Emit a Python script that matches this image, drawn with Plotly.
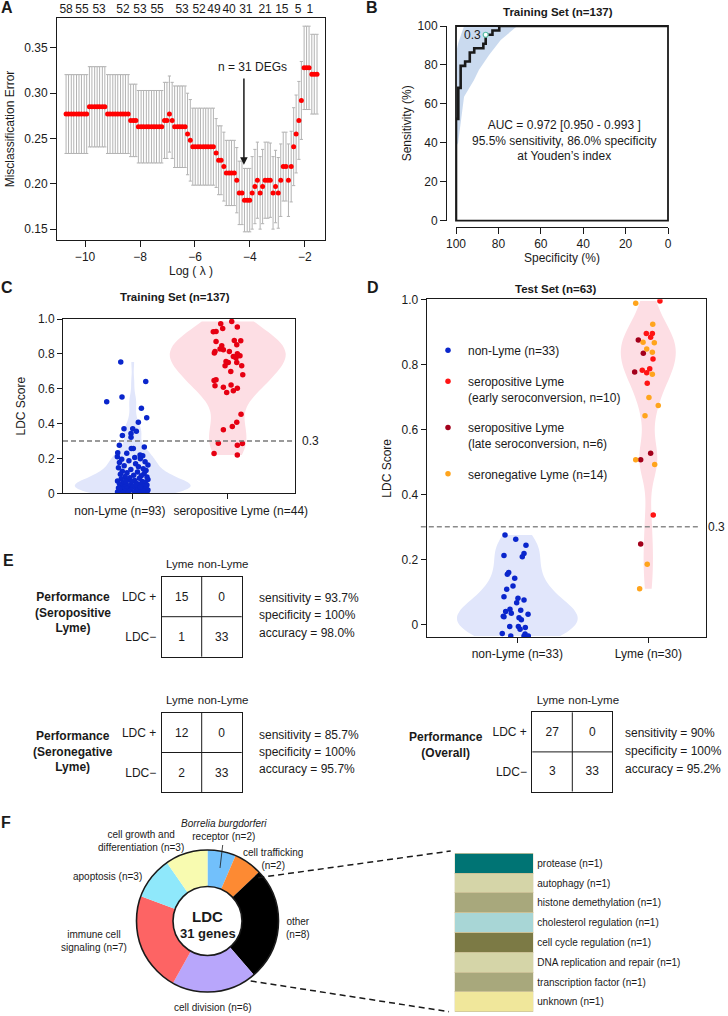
import plotly.graph_objects as go

W, H = 728, 1016
FONT = "Liberation Sans, Arial, Helvetica, sans-serif"
INK = "#1a1a1a"


def PX(x):
    return x / W


def PY(y):
    return 1 - y / H


# ---------------- Panel A : cross-validated misclassification error ----------------
log_lambda = [
    -10.69, -10.60, -10.50, -10.41, -10.31, -10.22, -10.13, -10.03, -9.94, -9.84,
    -9.75, -9.65, -9.56, -9.47, -9.37, -9.28, -9.18, -9.09, -8.99, -8.90,
    -8.81, -8.71, -8.62, -8.53, -8.43, -8.34, -8.24, -8.15, -8.06, -7.96,
    -7.87, -7.77, -7.68, -7.58, -7.49, -7.40, -7.30, -7.21, -7.11, -7.02,
    -6.93, -6.83, -6.74, -6.64, -6.55, -6.46, -6.36, -6.27, -6.17, -6.08,
    -5.99, -5.89, -5.80, -5.70, -5.61, -5.52, -5.42, -5.33, -5.23, -5.14,
    -5.05, -4.95, -4.86, -4.76, -4.67, -4.57, -4.48, -4.39, -4.29, -4.20,
    -4.10, -4.01, -3.92, -3.82, -3.73, -3.63, -3.54, -3.45, -3.35, -3.26,
    -3.16, -3.07, -2.97, -2.88, -2.79, -2.69, -2.60, -2.50, -2.41, -2.32,
    -2.22, -2.13, -2.03, -1.94, -1.85, -1.75, -1.66, -1.56,
]
cv_error = [
    0.277, 0.277, 0.277, 0.277, 0.277, 0.277, 0.277, 0.277, 0.277, 0.285,
    0.285, 0.285, 0.285, 0.285, 0.285, 0.285, 0.277, 0.277, 0.277, 0.277,
    0.277, 0.277, 0.277, 0.277, 0.277, 0.270, 0.270, 0.270, 0.263, 0.263,
    0.263, 0.263, 0.263, 0.263, 0.263, 0.263, 0.263, 0.263, 0.270, 0.270,
    0.277, 0.270, 0.263, 0.263, 0.263, 0.263, 0.263, 0.255, 0.248, 0.241,
    0.241, 0.241, 0.241, 0.241, 0.241, 0.241, 0.241, 0.241, 0.234, 0.226,
    0.226, 0.219, 0.212, 0.212, 0.212, 0.212, 0.204, 0.190, 0.190, 0.182,
    0.182, 0.182, 0.190, 0.197, 0.204, 0.190, 0.197, 0.204, 0.204, 0.204,
    0.190, 0.197, 0.190, 0.204, 0.219, 0.219, 0.204, 0.219, 0.241, 0.255,
    0.270, 0.292, 0.328, 0.328, 0.328, 0.321, 0.321, 0.321,
]
cv_se = [
    0.0435, 0.0435, 0.0435, 0.0435, 0.0435, 0.0435, 0.0435, 0.0435, 0.0435, 0.0443,
    0.0443, 0.0443, 0.0443, 0.0443, 0.0443, 0.0443, 0.0435, 0.0435, 0.0435, 0.0435,
    0.0435, 0.0435, 0.0435, 0.0435, 0.0435, 0.040, 0.040, 0.040, 0.040, 0.040,
    0.040, 0.040, 0.040, 0.040, 0.040, 0.040, 0.040, 0.040, 0.042, 0.042,
    0.042, 0.042, 0.045, 0.045, 0.045, 0.045, 0.045, 0.045, 0.045, 0.0425,
    0.0425, 0.0425, 0.0425, 0.0425, 0.0425, 0.0425, 0.0425, 0.0425, 0.038, 0.038,
    0.038, 0.038, 0.036, 0.036, 0.036, 0.036, 0.036, 0.035, 0.035, 0.035,
    0.035, 0.035, 0.040, 0.041, 0.042, 0.040, 0.041, 0.042, 0.042, 0.041,
    0.040, 0.040, 0.039, 0.040, 0.038, 0.038, 0.040, 0.039, 0.043, 0.043,
    0.043, 0.043, 0.046, 0.046, 0.046, 0.044, 0.044, 0.044,
]
nzero_pos = [-10.69, -10.11, -9.49, -8.62, -8.00, -7.38, -6.47, -5.85, -5.31,
             -4.76, -4.15, -3.45, -2.84, -2.25, -1.82]
nzero_lab = [58, 55, 53, 52, 53, 55, 53, 52, 49, 40, 31, 21, 15, 5, 1]
a_xticks = [-10, -8, -6, -4, -2]
a_yticks = [0.15, 0.20, 0.25, 0.30, 0.35]
chosen_log_lambda = -4.22
chosen_err_tip = 0.221
chosen_label = "n = 31 DEGs"

# ---------------- Panel B : ROC curve ----------------
roc_spec = [100, 100, 98.9, 97.8, 95.7, 93.5, 91.4, 87.1, 86.0, 82.8, 79.6, 0]
roc_sens = [0, 52.3, 68.2, 79.5, 81.8, 86.4, 88.6, 90.9, 95.5, 97.7, 100, 100]
ci_spec = [100, 99.0, 96.2, 91.5, 89.2, 84.4, 78.9, 74.2, 71.1]
ci_sens_lo = [38, 40, 63.7, 72.3, 77.4, 85.1, 92.8, 97.1, 100]
ci_sens_hi = [86, 91, 100, 100, 100, 100, 100, 100, 100]
youden_spec, youden_sens, youden_thr = 86.0, 95.5, "0.3"
b_ticks = [0, 20, 40, 60, 80, 100]
auc_lines = ["AUC = 0.972 [0.950 - 0.993 ]",
             "95.5% sensitivity, 86.0% specificity",
             "at Youden\u2019s index"]

# ---------------- Panel C : training set LDC scores ----------------
train_groups = ["non-Lyme (n=93)", "seropositive Lyme (n=44)"]
train_nonlyme = [
    0.753, 0.641, 0.553, 0.525, 0.488, 0.433, 0.408, 0.371, 0.370, 0.356,
    0.343, 0.331, 0.322, 0.276, 0.266, 0.257, 0.257, 0.232, 0.230, 0.220,
    0.215, 0.210, 0.205, 0.195,
    0.198, 0.187, 0.181, 0.176, 0.169, 0.163, 0.158, 0.152,
    0.147, 0.141, 0.137, 0.131, 0.127, 0.122, 0.118, 0.114, 0.109, 0.104,
    0.101, 0.097, 0.093, 0.089,
    0.086, 0.083, 0.079, 0.077, 0.074, 0.071, 0.068, 0.066, 0.063, 0.060,
    0.058, 0.055, 0.052, 0.050, 0.047, 0.045, 0.043, 0.041, 0.039, 0.037, 0.035,
    0.033, 0.031, 0.029, 0.028, 0.026, 0.024, 0.022, 0.021, 0.019, 0.017,
    0.016, 0.014, 0.012, 0.011, 0.009, 0.008, 0.006, 0.005, 0.004, 0.003,
    0.002, 0.015, 0.027, 0.048, 0.070, 0.036,
]
train_nonlyme_jit = [
    -0.126, 0.137, -0.113, -0.274, 0.091, 0.147, 0.059, -0.092, 0.0, 0.038,
    -0.018, -0.109, -0.018, -0.141, 0.122, -0.015, 0.006, -0.158, -0.063, 0.077,
    0.105, -0.162, 0.021, -0.116,
    0.08, -0.04, 0.13, -0.14, 0.03, 0.16, -0.09, 0.06,
    -0.15, 0.11, -0.02, 0.14, -0.11, 0.05, -0.06, 0.12, -0.13, 0.01,
    0.09, -0.08, 0.15, -0.03,
    0.07, -0.12, 0.16, -0.05, 0.02, -0.16, 0.10, -0.01, 0.13, -0.10,
    0.04, -0.14, 0.08, -0.07, 0.15, -0.03, 0.11, -0.12, 0.0, 0.06, -0.09,
    0.14, -0.15, 0.03, -0.06, 0.12, -0.11, 0.09, -0.02, 0.16, -0.13,
    0.05, -0.08, 0.10, -0.04, 0.13, -0.16, 0.07, -0.10, 0.02, 0.15,
    -0.05, 0.11, -0.14, 0.04, -0.07, 0.08,
]
train_seropos = [
    0.986, 0.973, 0.946, 0.954, 0.927, 0.929, 0.871, 0.877, 0.875, 0.852,
    0.846, 0.814, 0.828, 0.814, 0.824, 0.805, 0.785, 0.800, 0.789, 0.776,
    0.756, 0.751, 0.751, 0.732, 0.732, 0.699, 0.680, 0.647, 0.651, 0.617,
    0.609, 0.622, 0.603, 0.588, 0.578, 0.454, 0.408, 0.383, 0.364, 0.287,
    0.285, 0.276, 0.228, 0.220,
]
train_seropos_jit = [
    0.042, -0.074, -0.053, 0.101, -0.152, -0.123, -0.123, 0.069, 0.137, 0.095,
    -0.063, -0.134, -0.081, 0.017, -0.046, -0.141, 0.059, 0.101, 0.129, 0.087,
    -0.018, 0.006, 0.095, 0.147, -0.028, 0.032, 0.158, -0.144, -0.123, -0.134,
    -0.046, 0.035, 0.101, 0.059, -0.011, 0.140, 0.095, 0.048, -0.046, -0.099,
    0.154, 0.101, -0.144, 0.101,
]
threshold = 0.3
score_ticks = [0, 0.2, 0.4, 0.6, 0.8, 1.0]
score_ticktext = ["0", "0.2", "0.4", "0.6", "0.8", "1.0"]

# ---------------- Panel D : test set LDC scores ----------------
test_groups = ["non-Lyme (n=33)", "Lyme (n=30)"]
test_nonlyme = [0.275, 0.262, 0.243, 0.212, 0.218, 0.208, 0.154, 0.159, 0.142, 0.108,
                0.118, 0.085, 0.080, 0.066, 0.075, 0.046, 0.039, 0.023, 0.025, 0.034,
                0.043, 0.031, 0.014, -0.007, -0.007, -0.015, -0.010, -0.030, -0.028,
                -0.036, -0.036, -0.036, 0.020]
test_nonlyme_jit = [-0.094, -0.012, 0.066, -0.102, 0.051, 0.038, -0.076, -0.066, -0.020,
                    -0.081, -0.033, -0.102, 0.005, -0.005, 0.051, -0.056, -0.089, -0.102,
                    -0.107, -0.046, 0.026, 0.082, 0.031, -0.058, 0.008, 0.021, 0.061,
                    0.059, -0.115, -0.050, 0.051, 0.084, 0.013]
test_sero_early = [0.995, 0.895, 0.895, 0.883, 0.816, 0.782, 0.774, 0.786, 0.742, 0.336]
test_sero_early_jit = [0.089, -0.015, 0.031, 0.018, 0.036, -0.046, -0.012, 0.011, -0.008, 0.038]
test_sero_late = [0.875, 0.834, 0.776, 0.526, 0.506, 0.247]
test_sero_late_jit = [-0.076, -0.038, -0.104, 0.018, -0.058, -0.058]
test_seroneg = [0.988, 0.923, 0.868, 0.866, 0.847, 0.837, 0.769, 0.698, 0.673, 0.642,
                0.506, 0.492, 0.185, 0.109]
test_seroneg_jit = [-0.096, 0.034, -0.040, 0.046, -0.012, 0.031, 0.031, 0.005, 0.076,
                    -0.025, -0.096, 0.049, -0.008, -0.066]
test_legend = ["non-Lyme (n=33)",
               "seropositive Lyme<br>(early seroconversion, n=10)",
               "seropositive Lyme<br>(late seroconversion, n=6)",
               "seronegative Lyme (n=14)"]

# ---------------- Panel E : confusion matrices ----------------
cm_cols = ["Lyme", "non-Lyme"]
cm_rows = ["LDC\u2212", "LDC +"]          # bottom to top
cm_seropos = [[1, 33], [15, 0]]
cm_seroneg = [[2, 33], [12, 0]]
cm_overall = [[3, 33], [27, 0]]
perf_seropos = ["sensitivity = 93.7%", "specificity = 100%", "accuracy = 98.0%"]
perf_seroneg = ["sensitivity = 85.7%", "specificity = 100%", "accuracy = 95.7%"]
perf_overall = ["sensitivity = 90%", "specificity = 100%", "accuracy = 95.2%"]

# ---------------- Panel F : gene categories ----------------
pie_cats = ["Borrelia burgdorferi receptor", "cell trafficking", "other", "cell division",
            "immune cell signaling", "apoptosis", "cell growth and differentiation"]
pie_counts = [2, 2, 8, 6, 7, 3, 3]
pie_colors = ["#72c0fb", "#fd8a33", "#000000", "#b8a6fb", "#fd6464", "#8fe8fb", "#f8fbb0"]
pie_label_text = ["<i>Borrelia burgdorferi</i><br>receptor (n=2)", "cell trafficking<br>(n=2)",
                  "other<br>(n=8)", "cell division (n=6)", "immune cell<br>signaling (n=7)",
                  "apoptosis (n=3)", "cell growth and<br>differentiation (n=3)"]
other_cats = ["protease", "autophagy", "histone demethylation", "cholesterol regulation",
              "cell cycle regulation", "DNA replication and repair", "transcription factor",
              "unknown"]
other_counts = [1, 1, 1, 1, 1, 1, 1, 1]
other_colors = ["#007474", "#d5d5a8", "#a8a87c", "#a8d6d6", "#7c7a45", "#d5d5a8",
                "#a8a87c", "#f0e79b"]

BLUE = "#0a26cc"
RED_TRAIN = "#e60012"
RED_EARLY = "#ff1414"
DARK_RED = "#a3001b"
ORANGE = "#ffa41c"
LAVENDER = "#e1e6fb"
PINK = "#fddee4"

fig = go.Figure()

# ---- A ----
fig.add_trace(go.Scatter(
    x=log_lambda, y=cv_error, mode="markers", xaxis="x", yaxis="y",
    marker=dict(color="#ff0000", size=5),
    error_y=dict(type="data", array=cv_se, color="#b3b3b3", thickness=1, width=1.6),
    showlegend=False, hoverinfo="skip"))
fig.add_trace(go.Scatter(
    x=[nzero_pos[0]], y=[cv_error[0]], mode="markers", xaxis="x2", yaxis="y",
    marker=dict(opacity=0), showlegend=False, hoverinfo="skip"))

# ---- B ----
fig.add_trace(go.Scatter(x=ci_spec, y=ci_sens_hi, mode="lines", line=dict(width=0),
                         xaxis="x3", yaxis="y3", showlegend=False, hoverinfo="skip"))
fig.add_trace(go.Scatter(x=ci_spec, y=ci_sens_lo, mode="lines", line=dict(width=0),
                         fill="tonexty", fillcolor="rgba(184,205,234,0.75)",
                         xaxis="x3", yaxis="y3", showlegend=False, hoverinfo="skip"))
fig.add_trace(go.Scatter(x=roc_spec, y=roc_sens, mode="lines",
                         line=dict(color=INK, width=2.6, shape="hv"),
                         xaxis="x3", yaxis="y3", showlegend=False, hoverinfo="skip"))
fig.add_trace(go.Scatter(x=[youden_spec], y=[youden_sens], mode="markers",
                         marker=dict(size=5, color="white", line=dict(color="#5cbfa8", width=1.2)),
                         xaxis="x3", yaxis="y3", showlegend=False, hoverinfo="skip"))

# ---- C ----
fig.add_trace(go.Violin(x=[0] * len(train_nonlyme), y=train_nonlyme, xaxis="x4", yaxis="y4",
                        width=1.22, spanmode="hard", bandwidth=0.04, points=False,
                        fillcolor=LAVENDER, line=dict(width=0), showlegend=False,
                        hoverinfo="skip", scalemode="width"))
fig.add_trace(go.Violin(x=[1] * len(train_seropos), y=train_seropos, xaxis="x4", yaxis="y4",
                        width=1.22, spanmode="hard", bandwidth=0.095, points=False,
                        fillcolor=PINK, line=dict(width=0), showlegend=False,
                        hoverinfo="skip", scalemode="width"))
fig.add_trace(go.Scatter(x=[0 + j for j in train_nonlyme_jit], y=train_nonlyme, mode="markers",
                         marker=dict(color=BLUE, size=5.5), xaxis="x4", yaxis="y4",
                         showlegend=False, hoverinfo="skip"))
fig.add_trace(go.Scatter(x=[1 + j for j in train_seropos_jit], y=train_seropos, mode="markers",
                         marker=dict(color=RED_TRAIN, size=5.5), xaxis="x4", yaxis="y4",
                         showlegend=False, hoverinfo="skip"))

# ---- D ----
fig.add_trace(go.Violin(x=[0] * len(test_nonlyme), y=test_nonlyme, xaxis="x5", yaxis="y5",
                        width=0.92, spanmode="hard", bandwidth=0.045, points=False,
                        fillcolor=LAVENDER, line=dict(width=0), showlegend=False,
                        hoverinfo="skip", scalemode="width"))
lyme_all = test_sero_early + test_sero_late + test_seroneg
fig.add_trace(go.Violin(x=[1] * len(lyme_all), y=lyme_all, xaxis="x5", yaxis="y5",
                        width=0.42, spanmode="hard", bandwidth=0.06, points=False,
                        fillcolor=PINK, line=dict(width=0), showlegend=False,
                        hoverinfo="skip", scalemode="width"))
d_sets = [
    (0, test_nonlyme, test_nonlyme_jit, BLUE, test_legend[0]),
    (1, test_sero_early, test_sero_early_jit, RED_EARLY, test_legend[1]),
    (1, test_sero_late, test_sero_late_jit, DARK_RED, test_legend[2]),
    (1, test_seroneg, test_seroneg_jit, ORANGE, test_legend[3]),
]
for k, (pos, vals, jit, col, name) in enumerate(d_sets):
    fig.add_trace(go.Scatter(x=[pos + j for j in jit], y=vals, mode="markers", name=name,
                             marker=dict(color=col, size=5.5), xaxis="x5", yaxis="y5",
                             legendgroup=f"g{k}", showlegend=True, hoverinfo="skip"))

# ---- E ----
cell_idx = [0, 1]
for k, cm in zip([7, 8, 9], [cm_seropos, cm_seroneg, cm_overall]):
    fig.add_trace(go.Heatmap(z=cm, x=cell_idx, y=cell_idx, xaxis=f"x{k}", yaxis=f"y{k}",
                             colorscale=[[0, "white"], [1, "white"]], showscale=False,
                             zmin=0, zmax=40, texttemplate="%{z}",
                             textfont=dict(size=12, color=INK), hoverinfo="skip"))

# ---- F ----
cx, cy, R = 207.5, 921.0, 71.0
fig.add_trace(go.Pie(labels=pie_cats, values=pie_counts, sort=False, direction="clockwise",
                     rotation=0, hole=0.486, textinfo="none", showlegend=False,
                     marker=dict(colors=pie_colors, line=dict(width=0)),
                     domain=dict(x=[PX(cx - R), PX(cx + R)], y=[PY(cy + R), PY(cy - R)]),
                     hoverinfo="skip"))
for name, cnt, col in reversed(list(zip(other_cats, other_counts, other_colors))):
    fig.add_trace(go.Bar(x=[0], y=[cnt], width=1, xaxis="x6", yaxis="y6", name=name,
                         marker=dict(color=col, line=dict(color="#cbc196", width=1)),
                         showlegend=False, hoverinfo="skip"))
cum = []
acc = 0
for c in reversed(other_counts):
    cum.append(acc + c / 2)
    acc += c
other_tickvals = list(reversed(cum))
other_ticktext = [f"{n} (n={c})" for n, c in zip(other_cats, other_counts)]

# ---------------- layout ----------------
common = dict(showgrid=False, zeroline=False, automargin=False, linecolor=INK,
              tickcolor=INK, tickfont=dict(size=12, color=INK))

layout = dict(
    width=W, height=H, margin=dict(l=0, r=0, t=0, b=0),
    paper_bgcolor="white", plot_bgcolor="white",
    font=dict(family=FONT, size=12, color=INK),
    violinmode="overlay", barmode="stack", bargap=0,
    legend=dict(x=PX(428), y=PY(336), xanchor="left", yanchor="top",
                bgcolor="rgba(0,0,0,0)", font=dict(size=12, color=INK),
                tracegroupgap=12, valign="top", itemsizing="trace", itemwidth=30),
    xaxis=dict(common, domain=[PX(57), PX(325)], range=[-11.02, -1.27], anchor="y",
               tickvals=a_xticks, ticktext=["\u2212" + str(abs(v)) for v in a_xticks],
               ticks="outside", ticklen=6, showline=True, mirror=True, linewidth=1,
               tickangle=0,
               title=dict(text="Log ( \u03bb )", standoff=3, font=dict(size=12))),
    xaxis2=dict(common, domain=[PX(57), PX(325)], range=[-11.02, -1.27], anchor="y",
                overlaying="x", side="top", tickvals=nzero_pos, tickangle=0,
                ticktext=[str(v) for v in nzero_lab], ticks="", showline=False,
                ticklabelstandoff=2),
    yaxis=dict(common, domain=[PY(240), PY(18)], range=[0.138, 0.383], anchor="x",
               tickvals=a_yticks, ticktext=[f"{v:.2f}" for v in a_yticks],
               ticks="outside", ticklen=6, showline=True, mirror=True, linewidth=1,
               title=dict(text="Misclassification Error", standoff=7, font=dict(size=12))),
    xaxis3=dict(common, domain=[PX(456), PX(668)], range=[100, 0], anchor="free",
                position=PY(227), tickvals=b_ticks, ticks="outside", ticklen=6,
                showline=True, linewidth=1, tickangle=0,
                title=dict(text="Specificity (%)", standoff=3, font=dict(size=12))),
    yaxis3=dict(common, domain=[PY(220.7), PY(26)], range=[0, 100], anchor="free",
                position=PX(446), tickvals=b_ticks, ticks="outside", ticklen=6,
                showline=True, linewidth=1,
                title=dict(text="Sensitivity (%)", standoff=2, font=dict(size=12))),
    xaxis4=dict(common, domain=[PX(63), PX(295)], range=[-0.734, 1.708], anchor="y4",
                tickvals=[-0.135, 1.137], ticktext=train_groups, ticks="", tickangle=0,
                ticklabelstandoff=6, showline=True, mirror=True, linewidth=1,
                minor=dict(tickvals=[0, 1], ticks="outside", ticklen=5, tickcolor=INK,
                           showgrid=False)),
    yaxis4=dict(common, domain=[PY(493.3), PY(319)], range=[0, 1], anchor="x4",
                tickvals=score_ticks, ticktext=score_ticktext, ticks="outside", ticklen=5,
                showline=True, mirror=True, linewidth=1,
                title=dict(text="LDC Score", standoff=9, font=dict(size=12))),
    xaxis5=dict(common, domain=[PX(426.7), PX(706.3)], range=[-0.692, 1.443], anchor="y5",
                tickvals=[0, 1], ticktext=test_groups, ticks="outside", ticklen=5,
                tickangle=0, showline=True, mirror=True, linewidth=1),
    yaxis5=dict(common, domain=[PY(637.3), PY(299.3)], range=[-0.04, 1.0], anchor="x5",
                tickvals=score_ticks, ticktext=score_ticktext, ticks="outside", ticklen=5,
                showline=True, mirror=True, linewidth=1,
                title=dict(text="LDC Score", standoff=7, font=dict(size=12))),
    xaxis6=dict(domain=[PX(454.7), PX(533.3)], range=[-0.5, 0.5], anchor="y6", visible=False,
                fixedrange=True),
    yaxis6=dict(common, domain=[PY(1011.7), PY(853.3)], range=[0, sum(other_counts)],
                anchor="x6", side="right", tickvals=other_tickvals, ticktext=other_ticktext,
                ticks="", showline=False, tickfont=dict(size=10, color=INK),
                ticklabelstandoff=3),
)
e_boxes = {7: (161.7, 241.7, 576.7, 656.7), 8: (161.7, 241.7, 712.7, 792.3),
           9: (532.3, 612.3, 712.3, 791.5)}
for k, (x0, x1, y0, y1) in e_boxes.items():
    layout[f"xaxis{k}"] = dict(common, domain=[PX(x0), PX(x1)], anchor=f"y{k}", side="top",
                               range=[-0.5, 1.5], tickvals=[-0.045, 1.035], ticktext=cm_cols,
                               ticks="", showline=True, mirror=True, linewidth=1,
                               tickangle=0, ticklabelstandoff=3,
                               tickfont=dict(size=11.5, color=INK))
    layout[f"yaxis{k}"] = dict(common, domain=[PY(y1), PY(y0)], anchor=f"x{k}",
                               range=[-0.5, 1.5], tickvals=cell_idx, ticktext=cm_rows,
                               ticks="", showline=True, mirror=True, linewidth=1,
                               ticklabelstandoff=2)
fig.update_layout(**layout)

shapes = []
# B frame
shapes.append(dict(type="rect", xref="x3 domain", yref="y3 domain", x0=0, x1=1, y0=0, y1=1,
                   line=dict(color=INK, width=1.8)))
# thresholds
shapes.append(dict(type="line", xref="x4 domain", yref="y4", x0=0, x1=0.99, y0=threshold,
                   y1=threshold, line=dict(color="#7a7a7a", width=1.4, dash="5px,3px")))
shapes.append(dict(type="line", xref="x5 domain", yref="y5", x0=-0.021, x1=0.98,
                   y0=threshold, y1=threshold,
                   line=dict(color="#8a8a8a", width=1.4, dash="5px,3px")))
# matrix inner lines
for k in e_boxes:
    shapes.append(dict(type="line", xref=f"x{k} domain", yref=f"y{k} domain", x0=0.5, x1=0.5,
                       y0=0, y1=1, line=dict(color=INK, width=1)))
    shapes.append(dict(type="line", xref=f"x{k} domain", yref=f"y{k} domain", x0=0, x1=1,
                       y0=0.5, y1=0.5, line=dict(color=INK, width=1)))
# donut outlines
r_in = R * 0.486
shapes.append(dict(type="circle", xref="paper", yref="paper", x0=PX(cx - R), x1=PX(cx + R),
                   y0=PY(cy + R), y1=PY(cy - R), line=dict(color=INK, width=1.6)))
shapes.append(dict(type="circle", xref="paper", yref="paper", x0=PX(cx - r_in),
                   x1=PX(cx + r_in), y0=PY(cy + r_in), y1=PY(cy - r_in),
                   line=dict(color=INK, width=1.6)))
# Borrelia leader line
shapes.append(dict(type="line", xref="paper", yref="paper", x0=PX(222.7), y0=PY(845),
                   x1=PX(220), y1=PY(868), line=dict(color=INK, width=0.8)))
# zoom connector lines
shapes.append(dict(type="line", xref="paper", yref="paper", x0=PX(258.3), y0=PY(877.7),
                   x1=PX(450.7), y1=PY(851), line=dict(color=INK, width=1.5, dash="6px,4px")))
shapes.append(dict(type="line", xref="paper", yref="paper", x0=PX(250.7), y0=PY(981),
                   x1=PX(449), y1=PY(1011.7), line=dict(color=INK, width=1.5, dash="6px,4px")))
fig.update_layout(shapes=shapes)


def ann(x, y, text, size=12, xanchor="center", yanchor="middle", align="center"):
    return dict(x=PX(x), y=PY(y), xref="paper", yref="paper", text=text, showarrow=False,
                font=dict(size=size, color=INK), xanchor=xanchor, yanchor=yanchor,
                align=align)


anns = []
for letter, (lx, ly) in zip("ABCDEF", [(7, 8), (372, 8), (7, 288), (373, 288), (8, 560),
                                         (6, 822)]):
    anns.append(ann(lx, ly, f"<b>{letter}</b>", size=16))
# A
anns.append(dict(x=chosen_log_lambda, y=chosen_err_tip, xref="x", yref="y",
                 ax=chosen_log_lambda, ay=0.318, axref="x", ayref="y", text="",
                 showarrow=True, arrowhead=2, arrowsize=1, arrowwidth=1.5, arrowcolor=INK))
anns.append(dict(x=-3.89, y=0.329, xref="x", yref="y", text=chosen_label, showarrow=False,
                 font=dict(size=12, color=INK)))
# B
anns.append(ann(557.5, 12, "<b>Training Set (n=137)</b>", size=11.5))
anns.append(dict(x=youden_spec, y=youden_sens, xref="x3", yref="y3", text=youden_thr,
                 showarrow=False, xanchor="right", xshift=-3, font=dict(size=12, color=INK)))
anns.append(ann(564, 140.7, "<br>".join(auc_lines), size=12))
# C / D titles and threshold labels
anns.append(ann(175, 297, "<b>Training Set (n=137)</b>", size=11.5))
anns.append(ann(555, 289, "<b>Test Set (n=63)</b>", size=11.5))
anns.append(dict(x=1.02, y=threshold, xref="x4 domain", yref="y4", text=str(threshold),
                 showarrow=False, xanchor="left", font=dict(size=12, color=INK)))
anns.append(dict(x=PX(727), y=threshold, xref="paper", yref="y5", text=str(threshold),
                 showarrow=False, xanchor="right", font=dict(size=12, color=INK)))
# E
anns.append(ann(73, 612, "<b>Performance<br>(Seropositive<br>Lyme)</b>"))
anns.append(ann(73, 751, "<b>Performance<br>(Seronegative<br>Lyme)</b>"))
anns.append(ann(446, 745, "<b>Performance<br>(Overall)</b>"))
for (sx, ys), lines in zip([(257.3, [597.7, 615, 633.3]), (257.3, [735, 751.7, 769]),
                             (623.0, [733.3, 751, 769])],
                            [perf_seropos, perf_seroneg, perf_overall]):
    for yy, t in zip(ys, lines):
        anns.append(ann(sx, yy, t, xanchor="left", align="left"))
# F
anns.append(ann(cx, 916, "<b>LDC</b>", size=15))
anns.append(ann(cx, 933, "<b>31 genes</b>", size=13))
for t, (lx, ly) in zip(pie_label_text, [(224, 829.7), (272.7, 858.8), (298.3, 928.3),
                                        (213.3, 1007), (94, 941.2), (107.3, 876),
                                        (141, 841.3)]):
    anns.append(ann(lx, ly, t, size=10))
fig.update_layout(annotations=anns)

fig.write_html(
    "out.html",
    config={"displayModeBar": False, "staticPlot": True},
    post_script="document.body.style.margin='0';document.body.style.padding='0';"
                "document.documentElement.style.overflow='hidden';"
                "document.body.style.overflow='hidden';",
)
